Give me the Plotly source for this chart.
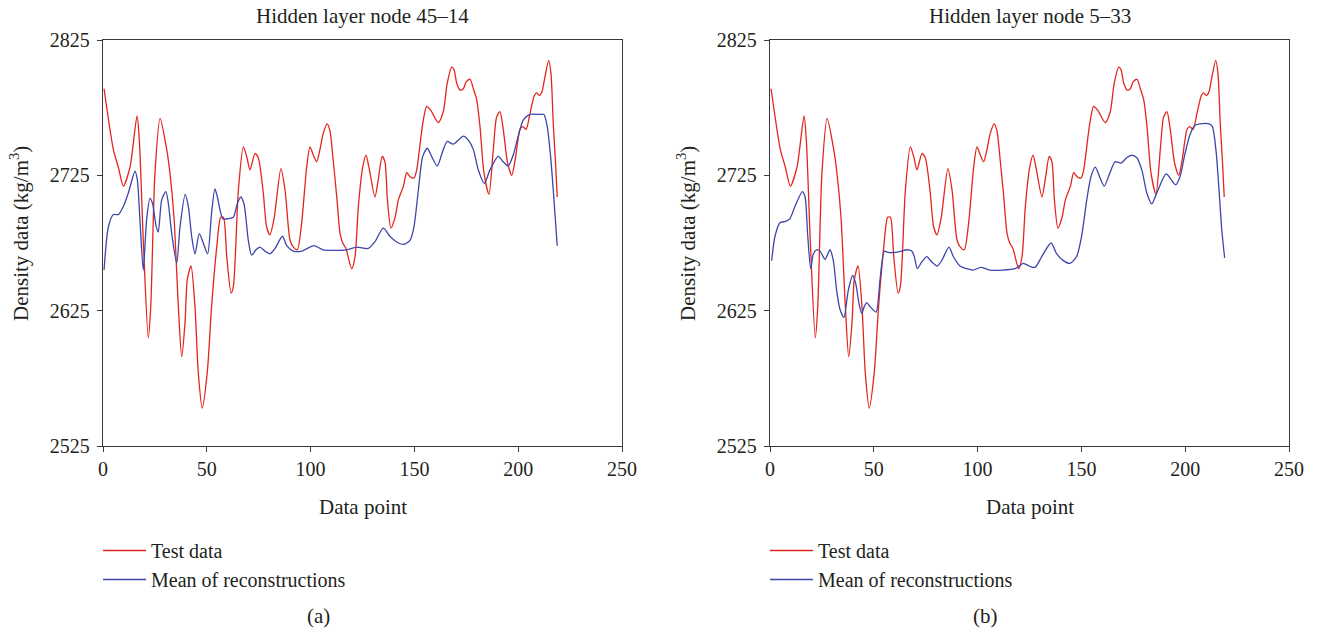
import plotly.graph_objects as go

# Density profiles: test data (same in both panels) and mean reconstructions
red_x = [0.5, 5, 7.4, 9.8, 13, 16.4, 17.5, 19.4, 21.8, 23, 25, 27.5, 30.7, 32.3, 34.2, 36.3, 37.9, 39.5,
         40.6, 42.4, 44.3, 45.9, 47.8, 50.2, 52.3, 54.8, 56.7, 58, 59.6, 61.7, 62.8, 65.2, 67.6, 69.2, 70.8,
         73.2, 74.8, 77.2, 78.8, 80.4, 82.4, 85.7, 87.7, 90.1, 91.7, 93.6, 95.7, 98.1, 99.7, 101.3, 102.9,
         104.5, 106.1, 108, 109.3, 110.9, 112.6, 114.2, 115.5, 117, 119.8, 121.4, 123, 125.1, 126.7, 128.1,
         131, 132.6, 134.5, 135.8, 137, 138.7, 140.7, 142.3, 144.7, 146.3, 147.9, 149.8, 151.1, 154, 155.9,
         157.9, 161.5, 163.9, 165.8, 168, 169.1, 170.4, 172, 173.6, 174.9, 176.8, 178.4, 180, 181.6, 183.5,
         185.9, 188, 189.6, 191.2, 192.8, 194.9, 196.9, 198.5, 200.9, 202.2, 203.8, 205.7, 207.8, 208.9,
         210.2, 211.5, 212.9, 214.7, 215.8, 216.9, 218.1, 218.8]
red_y = [2789, 2744, 2731, 2717, 2731, 2769, 2751, 2677, 2605, 2628, 2726, 2767, 2744, 2726, 2694, 2628,
         2591, 2616, 2648, 2658, 2628, 2579, 2553, 2579, 2628, 2672, 2694, 2694, 2665, 2638, 2643, 2714,
         2746, 2739, 2729, 2741, 2738, 2712, 2687, 2681, 2693, 2730, 2714, 2677, 2672, 2670, 2690, 2731,
         2746, 2740, 2735, 2744, 2756, 2763, 2758, 2736, 2709, 2682, 2675, 2671, 2656, 2665, 2702, 2731,
         2740, 2731, 2709, 2722, 2739, 2735, 2707, 2686, 2694, 2707, 2717, 2727, 2724, 2723, 2729, 2763,
         2776, 2773, 2764, 2772, 2793, 2805, 2803, 2793, 2788, 2789, 2794, 2796, 2789, 2781, 2761, 2727,
         2711, 2744, 2768, 2772, 2759, 2734, 2725, 2736, 2759, 2761, 2759, 2771, 2784, 2786, 2784, 2787,
         2798, 2810, 2800, 2763, 2731, 2709]

blue_a_x = [0.5, 2.6, 5, 7.4, 9.8, 12.2, 15.4, 16.5, 17.8, 19.4, 21, 22.6, 23.9, 25.5, 26.6, 28.3, 30.3,
            31.5, 33.1, 35.5, 37.1, 39.6, 41.1, 42.7, 44.3, 46.4, 48.3, 50.4, 52.3, 53.9, 55.1, 57.7, 60.4,
            62.8, 64.7, 66.3, 67.9, 70, 71.6, 73.7, 75.6, 78, 80.4, 82.9, 86.4, 88.5, 91.7, 95.7, 101.6,
            106.1, 117.4, 122.2, 127.8, 131, 135, 138.2, 142.3, 145, 147.9, 149.8, 151.9, 154, 156.2, 158.3,
            161, 163.9, 165.8, 168.7, 171.1, 173.6, 176, 178.4, 180.8, 183.7, 186.4, 190.4, 192.8, 195.2,
            197.6, 200, 202.5, 205.7, 210.5, 212.4, 214, 215.6, 216.9, 218.8]
blue_a_y = [2655, 2687, 2696, 2696, 2702, 2712, 2728, 2722, 2692, 2655, 2692, 2708, 2704, 2688, 2683, 2707,
            2713, 2704, 2682, 2660, 2687, 2711, 2702, 2680, 2667, 2682, 2675, 2667, 2697, 2715, 2709, 2693,
            2693, 2694, 2704, 2709, 2704, 2677, 2666, 2670, 2672, 2669, 2667, 2671, 2680, 2673, 2669, 2669,
            2673, 2670, 2670, 2672, 2671, 2676, 2686, 2680, 2675, 2674, 2677, 2687, 2714, 2739, 2745, 2739,
            2732, 2744, 2750, 2748, 2751, 2754, 2751, 2744, 2729, 2719, 2729, 2739, 2735, 2732, 2740, 2754,
            2766, 2770, 2770, 2770, 2761, 2739, 2714, 2673]

blue_b_x = [0.8, 2.4, 4.8, 7.5, 9.6, 12, 15.6, 16.9, 18.1, 19.6, 20.9, 22.5, 24.1, 26.5, 28.9, 30.5, 32.1,
            33.7, 35.6, 37.7, 39.8, 41.3, 42.9, 44.2, 45.4, 46.6, 48.2, 51.1, 53, 55.1, 57, 60.2, 63.4, 65.8,
            68.3, 69.5, 71, 73.1, 75.5, 77.9, 80.6, 82.7, 86.2, 88.3, 91.5, 94.8, 97.9, 101.6, 106, 118, 122,
            124.8, 127.7, 130.9, 135.4, 138.1, 141.3, 144.5, 147.7, 150.1, 152.6, 154.6, 156.7, 159, 161,
            163.3, 166.2, 169.1, 171.8, 174.3, 176.7, 179.1, 181.5, 183.9, 186.3, 190.8, 193.2, 195.4, 197.5,
            199.9, 202.3, 204.7, 207.1, 211.5, 213.1, 214.8, 216.3, 217.6, 219]
blue_b_y = [2662, 2680, 2690, 2691, 2693, 2702, 2713, 2709, 2682, 2656, 2667, 2670, 2669, 2663, 2670, 2662,
            2640, 2626, 2620, 2640, 2651, 2645, 2630, 2623, 2628, 2631, 2628, 2624, 2648, 2669, 2668, 2668,
            2669, 2670, 2669, 2665, 2656, 2661, 2665, 2661, 2658, 2662, 2672, 2665, 2658, 2656, 2655, 2657,
            2655, 2656, 2660, 2658, 2657, 2665, 2675, 2667, 2662, 2660, 2665, 2680, 2707, 2724, 2731, 2723,
            2717, 2725, 2735, 2734, 2738, 2740, 2738, 2729, 2712, 2704, 2712, 2726, 2722, 2718, 2724, 2741,
            2755, 2762, 2763, 2763, 2761, 2744, 2714, 2685, 2664]

panel_titles = ["Hidden layer node 45\u201314", "Hidden layer node 5\u201333"]
panel_tags = ["(a)", "(b)"]
series_names = ["Test data", "Mean of reconstructions"]
x_ticks = [0, 50, 100, 150, 200, 250]
y_ticks = [2525, 2625, 2725, 2825]

W, H = 1319, 633
RED = "#e3261d"
BLUE = "#3d46a8"
INK = "#231f20"
FONT = "Liberation Serif"
TXT = 21


def fx(p):
    return p / W


def fy(p):
    return 1 - p / H


fig = go.Figure()
panels = [
    ("x", "y", "legend", blue_a_x, blue_a_y),
    ("x2", "y2", "legend2", blue_b_x, blue_b_y),
]
for xa, ya, lg, bx, by in panels:
    fig.add_trace(go.Scatter(x=red_x, y=red_y, mode="lines", name=series_names[0],
                             xaxis=xa, yaxis=ya, legend=lg,
                             line=dict(color=RED, width=1.3, shape="spline", smoothing=0.7)))
    fig.add_trace(go.Scatter(x=bx, y=by, mode="lines", name=series_names[1],
                             xaxis=xa, yaxis=ya, legend=lg,
                             line=dict(color=BLUE, width=1.3, shape="spline", smoothing=0.7)))

axis_common = dict(showgrid=False, zeroline=False, showline=True, mirror=True, automargin=False,
                   linecolor="#3a3a3a", linewidth=1.3, ticks="outside", ticklen=5,
                   tickwidth=1.2, tickcolor="#3a3a3a",
                   tickfont=dict(family=FONT, size=20, color=INK))

plot_left = [103, 770]
plot_right = [622, 1289]
top_px, bottom_px = 40, 446

fig.update_layout(
    width=W, height=H,
    margin=dict(l=0, r=0, t=0, b=0, autoexpand=False),
    paper_bgcolor="white", plot_bgcolor="white",
    showlegend=True,
    xaxis=dict(domain=[fx(plot_left[0]), fx(plot_right[0])], range=[0, 250],
               tickvals=x_ticks, anchor="y", **axis_common),
    yaxis=dict(domain=[fy(bottom_px), fy(top_px)], range=[2525, 2825],
               tickvals=y_ticks, anchor="x", ticklabelstandoff=3, **axis_common),
    xaxis2=dict(domain=[fx(plot_left[1]), fx(plot_right[1])], range=[0, 250],
                tickvals=x_ticks, anchor="y2", **axis_common),
    yaxis2=dict(domain=[fy(bottom_px), fy(top_px)], range=[2525, 2825],
                tickvals=y_ticks, anchor="x2", ticklabelstandoff=3, **axis_common),
)

legend_common = dict(xanchor="left", yanchor="top", itemwidth=43,
                     bgcolor="rgba(0,0,0,0)", borderwidth=0,
                     font=dict(family=FONT, size=20, color=INK))
fig.update_layout(
    legend=dict(x=fx(plot_left[0] - 5), y=fy(531), **legend_common),
    legend2=dict(x=fx(plot_left[1] - 5), y=fy(531), **legend_common),
)

annotations = []
for i in range(2):
    cx = (plot_left[i] + plot_right[i]) / 2
    annotations.append(dict(text=panel_titles[i], x=fx(cx), y=fy(16), xref="paper", yref="paper",
                            xanchor="center", yanchor="middle", showarrow=False,
                            font=dict(family=FONT, size=TXT, color=INK)))
    annotations.append(dict(text="Data point", x=fx(cx), y=fy(507), xref="paper", yref="paper",
                            xanchor="center", yanchor="middle", showarrow=False,
                            font=dict(family=FONT, size=TXT, color=INK)))
    annotations.append(dict(text="Density data (kg/m<sup>3</sup>)", x=fx(plot_left[i] - 84), y=fy(234),
                            xref="paper", yref="paper", xanchor="center", yanchor="middle",
                            textangle=-90, showarrow=False,
                            font=dict(family=FONT, size=TXT, color=INK)))
    annotations.append(dict(text=panel_tags[i], x=fx([318, 985][i]), y=fy(616), xref="paper",
                            yref="paper", xanchor="center", yanchor="middle", showarrow=False,
                            font=dict(family=FONT, size=TXT, color=INK)))
fig.update_layout(annotations=annotations)

fig.write_html("out.html")
